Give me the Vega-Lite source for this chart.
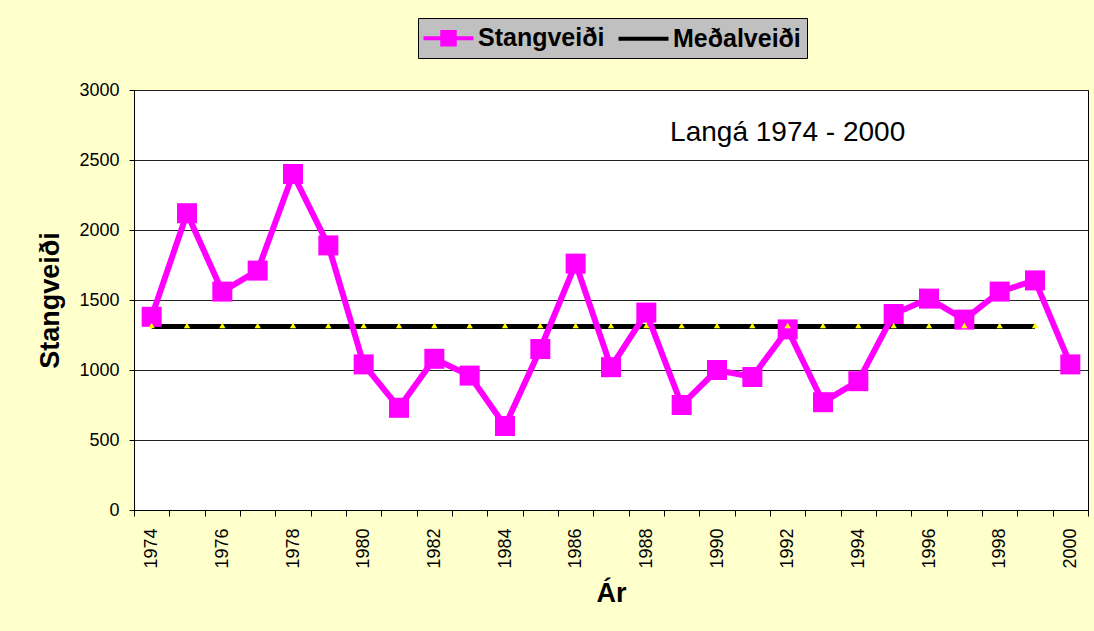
{
  "$schema": "https://vega.github.io/schema/vega-lite/v6.json",
  "width": 954,
  "height": 420,
  "autosize": "none",
  "padding": {"left": 134, "top": 90, "right": 6, "bottom": 121},
  "background": "#FFFFCC",
  "config": {
    "font": "Liberation Sans",
    "view": {"stroke": "#000000", "strokeWidth": 1, "fill": "#FFFFFF"}
  },
  "datasets": {
    "main": [
      {"year": 1974, "series": "Stangveiði", "value": 1380},
      {"year": 1975, "series": "Stangveiði", "value": 2120},
      {"year": 1976, "series": "Stangveiði", "value": 1560},
      {"year": 1977, "series": "Stangveiði", "value": 1710},
      {"year": 1978, "series": "Stangveiði", "value": 2400},
      {"year": 1979, "series": "Stangveiði", "value": 1890},
      {"year": 1980, "series": "Stangveiði", "value": 1040},
      {"year": 1981, "series": "Stangveiði", "value": 730},
      {"year": 1982, "series": "Stangveiði", "value": 1080},
      {"year": 1983, "series": "Stangveiði", "value": 960},
      {"year": 1984, "series": "Stangveiði", "value": 600},
      {"year": 1985, "series": "Stangveiði", "value": 1150},
      {"year": 1986, "series": "Stangveiði", "value": 1760},
      {"year": 1987, "series": "Stangveiði", "value": 1020},
      {"year": 1988, "series": "Stangveiði", "value": 1410},
      {"year": 1989, "series": "Stangveiði", "value": 750},
      {"year": 1990, "series": "Stangveiði", "value": 1000},
      {"year": 1991, "series": "Stangveiði", "value": 950},
      {"year": 1992, "series": "Stangveiði", "value": 1290},
      {"year": 1993, "series": "Stangveiði", "value": 770},
      {"year": 1994, "series": "Stangveiði", "value": 920},
      {"year": 1995, "series": "Stangveiði", "value": 1400},
      {"year": 1996, "series": "Stangveiði", "value": 1510},
      {"year": 1997, "series": "Stangveiði", "value": 1360},
      {"year": 1998, "series": "Stangveiði", "value": 1560},
      {"year": 1999, "series": "Stangveiði", "value": 1640},
      {"year": 2000, "series": "Stangveiði", "value": 1040}
    ],
    "mean": [
      {"year": 1974, "series": "Meðalveiði", "value": 1310},
      {"year": 1975, "series": "Meðalveiði", "value": 1310},
      {"year": 1976, "series": "Meðalveiði", "value": 1310},
      {"year": 1977, "series": "Meðalveiði", "value": 1310},
      {"year": 1978, "series": "Meðalveiði", "value": 1310},
      {"year": 1979, "series": "Meðalveiði", "value": 1310},
      {"year": 1980, "series": "Meðalveiði", "value": 1310},
      {"year": 1981, "series": "Meðalveiði", "value": 1310},
      {"year": 1982, "series": "Meðalveiði", "value": 1310},
      {"year": 1983, "series": "Meðalveiði", "value": 1310},
      {"year": 1984, "series": "Meðalveiði", "value": 1310},
      {"year": 1985, "series": "Meðalveiði", "value": 1310},
      {"year": 1986, "series": "Meðalveiði", "value": 1310},
      {"year": 1987, "series": "Meðalveiði", "value": 1310},
      {"year": 1988, "series": "Meðalveiði", "value": 1310},
      {"year": 1989, "series": "Meðalveiði", "value": 1310},
      {"year": 1990, "series": "Meðalveiði", "value": 1310},
      {"year": 1991, "series": "Meðalveiði", "value": 1310},
      {"year": 1992, "series": "Meðalveiði", "value": 1310},
      {"year": 1993, "series": "Meðalveiði", "value": 1310},
      {"year": 1994, "series": "Meðalveiði", "value": 1310},
      {"year": 1995, "series": "Meðalveiði", "value": 1310},
      {"year": 1996, "series": "Meðalveiði", "value": 1310},
      {"year": 1997, "series": "Meðalveiði", "value": 1310},
      {"year": 1998, "series": "Meðalveiði", "value": 1310},
      {"year": 1999, "series": "Meðalveiði", "value": 1310}
    ],
    "note": [
      {"year": 1992, "value": 2690, "label": "Langá 1974 - 2000"}
    ]
  },
  "encoding": {
    "x": {
      "field": "year",
      "type": "ordinal",
      "scale": {
        "type": "band",
        "paddingInner": 0,
        "paddingOuter": 0,
        "domain": [1974, 1975, 1976, 1977, 1978, 1979, 1980, 1981, 1982, 1983, 1984, 1985, 1986, 1987, 1988, 1989, 1990, 1991, 1992, 1993, 1994, 1995, 1996, 1997, 1998, 1999, 2000]
      },
      "axis": {
        "title": "Ár",
        "titleFontSize": 27,
        "titleFontWeight": "bold",
        "titleColor": "#000000",
        "titlePadding": 12,
        "labelAngle": -90,
        "labelFontSize": 18,
        "labelColor": "#000000",
        "labelPadding": 12,
        "labelOverlap": false,
        "labelExpr": "datum.value % 2 == 0 ? datum.label : ''",
        "tickBand": "extent",
        "tickSize": 6,
        "tickColor": "#000000",
        "domainColor": "#000000",
        "grid": false
      }
    },
    "y": {
      "field": "value",
      "type": "quantitative",
      "scale": {"domain": [0, 3000], "nice": false},
      "axis": {
        "title": "Stangveiði",
        "titleFontSize": 27,
        "titleFontWeight": "bold",
        "titleColor": "#000000",
        "titlePadding": 14,
        "values": [0, 500, 1000, 1500, 2000, 2500, 3000],
        "format": "d",
        "labelFontSize": 18,
        "labelColor": "#000000",
        "labelPadding": 10,
        "tickSize": 5,
        "tickColor": "#000000",
        "domainColor": "#000000",
        "grid": true,
        "gridColor": "#222222",
        "gridWidth": 1
      }
    }
  },
  "layer": [
    {
      "data": {"name": "mean"},
      "mark": {"type": "line", "strokeWidth": 5},
      "encoding": {
        "color": {
          "field": "series",
          "type": "nominal",
          "scale": {"domain": ["Stangveiði", "Meðalveiði"], "range": ["#FF00FF", "#000000"]},
          "legend": {
            "orient": "none",
            "legendX": 284,
            "legendY": -72,
            "direction": "horizontal",
            "title": null,
            "fillColor": "#C0C0C0",
            "strokeColor": "#000000",
            "padding": 5.5,
            "labelFontSize": 25,
            "labelFontWeight": "bold",
            "labelColor": "#000000",
            "labelLimit": 300,
            "symbolSize": 625,
            "symbolStrokeWidth": 4,
            "symbolOffset": 10.5,
            "labelOffset": 15,
            "columnPadding": 6,
            "encode": {
              "symbols": {
                "update": {
                  "shape": {"signal": "datum.value === 'Stangveiði' ? 'M-2,0H2M-0.5,-0.5H0.5V0.5H-0.5Z' : 'M-2,0H2'"},
                  "fill": {"signal": "datum.value === 'Stangveiði' ? '#FF00FF' : 'transparent'"},
                  "stroke": {"signal": "datum.value === 'Stangveiði' ? '#FF00FF' : '#000000'"},
                  "opacity": {"value": 1}
                }
              }
            }
          }
        }
      }
    },
    {
      "data": {"name": "main"},
      "mark": {"type": "line", "strokeWidth": 6},
      "encoding": {
        "color": {"field": "series", "type": "nominal"}
      }
    },
    {
      "data": {"name": "main"},
      "mark": {"type": "point", "shape": "square", "filled": true, "color": "#FF00FF", "size": 400, "opacity": 1}
    },
    {
      "data": {"name": "mean"},
      "mark": {"type": "point", "shape": "triangle-up", "filled": true, "color": "#FFFF00", "size": 40, "opacity": 1, "yOffset": -1}
    },
    {
      "data": {"name": "note"},
      "mark": {"type": "text", "fontSize": 28, "color": "#000000", "font": "Liberation Sans"},
      "encoding": {"text": {"field": "label"}}
    }
  ]
}
